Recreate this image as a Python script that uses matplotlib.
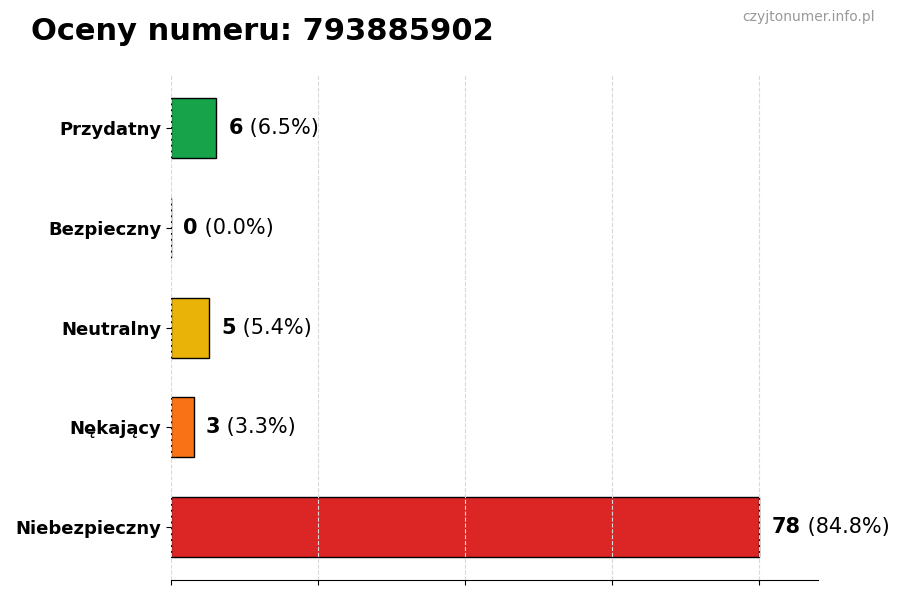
import numpy as np
import matplotlib
matplotlib.use("Agg")
import matplotlib.pyplot as plt

# data
phone = "793885902"
categories = ["Przydatny", "Bezpieczny", "Neutralny", "Nękający", "Niebezpieczny"]
counts = [6, 0, 5, 3, 78]
colors = ["#16a34a", "#2563eb", "#eab308", "#f97316", "#dc2626"]

total = sum(counts)
ypos = np.arange(len(categories))[::-1]

fig = plt.figure(figsize=(9, 6), dpi=100)
ax = fig.add_axes([0.19, 0.033, 0.719, 0.842])

ax.barh(ypos, counts, height=0.6, color=colors, edgecolor="black", linewidth=1, zorder=2)

xmax = max(counts)
ax.set_xlim(0, xmax * 1.1)
ax.set_xticks(np.linspace(0, xmax, 5))
ax.set_xticklabels([])
ax.grid(axis="x", linestyle="--", color="#d9d9d9", linewidth=0.8, zorder=3)
ax.set_axisbelow(False)

ax.set_yticks(ypos)
ax.set_yticklabels(categories, fontsize=13, fontweight="bold")

for side in ["top", "right", "left"]:
    ax.spines[side].set_visible(False)

# value labels: bold count followed by percentage
for y, c in zip(ypos, counts):
    pct = 100.0 * c / total if total else 0
    t = ax.text(c + xmax * 0.021, y, str(c), fontsize=15, fontweight="bold",
                va="center", ha="left")
    ax.annotate(" ({:.1f}%)".format(pct), xy=(1, 0), xycoords=t,
                fontsize=15, va="bottom", ha="left")

fig.text(0.034, 0.948, "Oceny numeru: {}".format(phone), fontsize=22,
         fontweight="bold", va="center", ha="left")
fig.text(0.972, 0.971, "czyjtonumer.info.pl", fontsize=10, color="#999999",
         va="center", ha="right")

fig.savefig("out.png", dpi=100)
